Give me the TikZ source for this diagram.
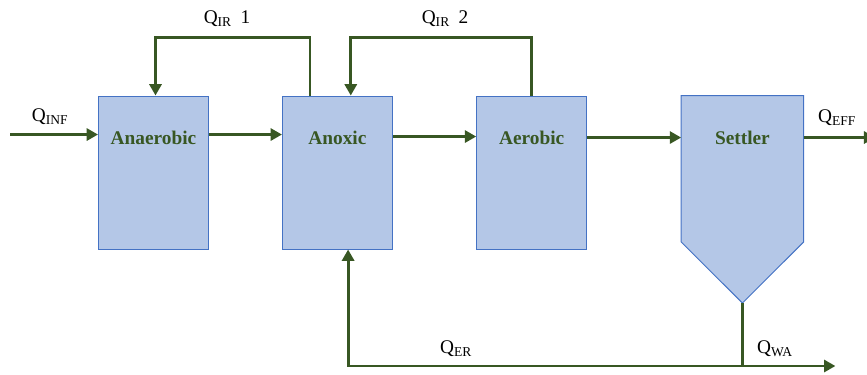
\documentclass[tikz,border=0pt]{standalone}
\usepackage{fontspec}
\setmainfont{Liberation Serif}
\definecolor{flowgreen}{RGB}{56,87,35}
\definecolor{tankblue}{RGB}{180,199,231}
\definecolor{tankedge}{RGB}{68,114,196}
\usetikzlibrary{arrows.meta,positioning}

\begin{document}
\begin{tikzpicture}[node distance=2.2cm and 2.2cm]
  \tikzstyle{tankbox}=[rectangle,draw=tankedge,line width=0.8pt,fill=tankblue,minimum width=3.3cm,minimum height=4.59cm,inner sep=0pt]
  \tikzstyle{tanktext}=[text=flowgreen,font=\fontsize{16.5}{19}\selectfont\bfseries,anchor=center]
  \tikzstyle{qlabel}=[font=\fontsize{16.5}{19}\selectfont,anchor=center]
  \tikzstyle{flowline}=[draw=flowgreen,line width=2.5pt]
  \tikzstyle{flowarrow}=[flowline,-{Triangle[length=0.34cm,width=0.36cm]}]

  \useasboundingbox (0,0) rectangle (26.01,-11.22);

  % tanks
  \node[tankbox] (ana) at (4.605,-5.175) {};
  \node[tankbox,right=2.19cm of ana] (ano) {};
  \node[tankbox,right=2.5cm of ano] (aer) {};
  \node[rectangle,minimum width=3.66cm,minimum height=4.38cm,inner sep=0pt,below right=0cm and 2.82cm of aer.north east] (set) {};
  \coordinate (tip) at ([yshift=-1.83cm]set.south);
  \draw[draw=tankedge,line width=0.8pt,fill=tankblue] (set.north west) -- (set.north east) -- (set.south east) -- (tip) -- (set.south west) -- cycle;

  \node[tanktext] (anatxt) at ([yshift=-1.26cm]ana.north) {Anaerobic};
  \node[tanktext] (anotxt) at ([yshift=-1.26cm]ano.north) {Anoxic};
  \node[tanktext] (aertxt) at ([yshift=-1.26cm]aer.north) {Aerobic};
  \node[tanktext] (settxt) at ([yshift=-1.26cm]set.north) {Settler};

  % free ends
  \coordinate (inf) at ([shift={(-2.64cm,-1.17cm)}]ana.north west);
  \coordinate (eff) at ([shift={(2.15cm,-1.26cm)}]set.north east);
  \coordinate (wa) at ([yshift=-1.89cm]tip);
  \coordinate (waout) at ([xshift=2.79cm]wa);

  % main flow
  \draw[flowarrow] (inf) -- ([yshift=-1.17cm]ana.north west);
  \draw[flowarrow] ([yshift=-1.17cm]ana.north east) -- ([yshift=-1.17cm]ano.north west);
  \draw[flowarrow] ([yshift=-1.23cm]ano.north east) -- ([yshift=-1.23cm]aer.north west);
  \draw[flowarrow] ([yshift=-1.26cm]aer.north east) -- ([yshift=-1.26cm]set.north west);
  \draw[flowarrow] ([yshift=-1.26cm]set.north east) -- (eff);

  % internal recycles
  \draw[flowarrow] ([xshift=0.84cm]ano.north west) -- ++(0,1.74) -| ([xshift=0.06cm]ana.north);
  \draw[flowarrow] (aer.north) -- ++(0,1.74) -| ([xshift=0.4cm]ano.north);

  % sludge return and waste
  \draw[flowarrow] (tip) -- (wa) -| ([xshift=0.32cm]ano.south);
  \draw[flowarrow] (wa) -- (waout);

  % labels
  \node[qlabel] (qir1) at (6.81,-0.57) {Q\textsubscript{IR}\hspace{0.45em}1};
  \node[qlabel] (qir2) at (13.35,-0.57) {Q\textsubscript{IR}\hspace{0.45em}2};
  \node[qlabel] (qinf) at (1.5,-3.51) {Q\textsubscript{INF}};
  \node[qlabel] (qeff) at (25.11,-3.54) {Q\textsubscript{EFF}};
  \node[qlabel] (qer) at (13.68,-10.47) {Q\textsubscript{ER}};
  \node[qlabel] (qwa) at (23.25,-10.47) {Q\textsubscript{WA}};
\end{tikzpicture}
\end{document}
